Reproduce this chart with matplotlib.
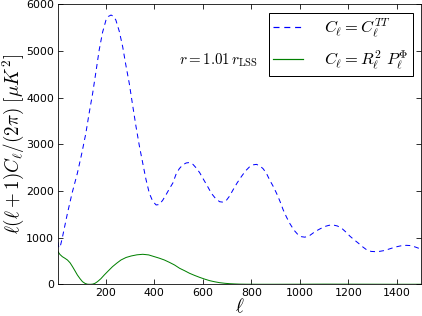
import matplotlib
matplotlib.use("Agg")
import matplotlib.pyplot as plt

plt.rcParams['mathtext.fontset'] = 'cm'
plt.rcParams['font.family'] = ['DejaVu Sans']

ell_tt = [2, 5, 10, 20, 41, 60, 82, 100, 117, 130, 145, 160, 172, 186, 200, 210, 221, 232, 241, 255,
          269, 282, 296, 310, 324, 338, 352, 365, 379, 393, 407, 420, 434, 448, 462, 476, 490, 503,
          517, 531, 545, 559, 573, 587, 600, 618, 635, 652, 669, 683, 697, 710, 724, 741, 759, 776,
          793, 807, 821, 834, 848, 862, 876, 890, 904, 918, 931, 945, 959, 976, 993, 1007, 1021,
          1042, 1063, 1084, 1104, 1121, 1138, 1155, 1173, 1190, 1207, 1225, 1242, 1260, 1277,
          1294, 1311, 1328, 1345, 1362, 1380, 1400, 1422, 1440, 1456, 1476, 1497, 1500]
dl_tt = [900, 800, 780, 1000, 1520, 1950, 2380, 2800, 3235, 3650, 4090, 4600, 5020, 5400, 5660, 5740,
         5770, 5740, 5660, 5420, 5090, 4700, 4310, 3840, 3380, 2960, 2590, 2250, 1950, 1780, 1700,
         1710, 1800, 1920, 2050, 2170, 2370, 2480, 2560, 2600, 2610, 2570, 2490, 2390, 2270, 2110,
         1950, 1840, 1770, 1760, 1800, 1890, 2020, 2170, 2310, 2430, 2520, 2560, 2570, 2540, 2480,
         2380, 2230, 2100, 1950, 1780, 1600, 1440, 1300, 1160, 1060, 1020, 1010, 1050, 1130, 1190,
         1240, 1265, 1270, 1250, 1200, 1120, 1030, 950, 880, 800, 735, 705, 700, 705, 720, 745,
         775, 805, 830, 835, 830, 800, 760, 750]

ell_phi = [2, 10, 20, 30, 41, 52, 62, 72, 82, 93, 103, 114, 124, 135, 145, 155, 165, 179, 193, 210,
           227, 245, 262, 283, 304, 328, 352, 376, 400, 420, 441, 462, 483, 504, 525, 545, 566,
           586, 607, 628, 648, 669, 690, 711, 731, 752, 780, 820, 900, 1000, 1100, 1200, 1300,
           1400, 1500]
dl_phi = [700, 640, 592, 560, 521, 460, 378, 290, 200, 120, 57, 18, 2, 0, 4, 22, 57, 120, 200, 290,
          378, 455, 521, 575, 607, 632, 643, 630, 592, 560, 521, 470, 414, 343, 290, 236, 190,
          150, 112, 78, 55, 35, 22, 13, 8, 4, 2, 1, 1, 2, 4, 3, 2, 1, 1]

xticks = [200, 400, 600, 800, 1000, 1200, 1400]
yticks = [0, 1000, 2000, 3000, 4000, 5000, 6000]

blue = (0.0, 0.0, 1.0)
green = (0.0, 0.5, 0.0)

fig = plt.figure(figsize=(422/72, 316/72), dpi=72)
ax = fig.add_axes([0.1374, 0.1003, 0.8602, 0.8861])

ax.plot(ell_tt, dl_tt, color=blue, linestyle='--', dashes=(5, 4), lw=1.0,
        label=r'$C_\ell = C_\ell^{TT}$')
ax.plot(ell_phi, dl_phi, color=green, lw=1.0,
        label=r'$C_\ell = R_\ell^2\ P_\ell^{\Phi}$')

ax.set_xlim(2, 1500)
ax.set_ylim(0, 6000)
ax.set_xticks(xticks)
ax.set_yticks(yticks)
ax.tick_params(direction='in', top=True, right=True, length=5, labelsize=11, pad=4)

ax.set_xlabel(r'$\ell$', fontsize=19, labelpad=-1)
ax.set_ylabel(r'$\ell(\ell+1)C_\ell/(2\pi)\ [\mu K^2]$', fontsize=19, labelpad=0)

ax.text(0.333, 0.785, r'$r = 1.01\,r_{\rm LSS}$', transform=ax.transAxes, fontsize=15)

leg = ax.legend(loc='upper right', fontsize=16.5, fancybox=False, framealpha=1,
                edgecolor='black', borderpad=0.25, handlelength=1.8, handletextpad=1.3,
                labelspacing=0.45, borderaxespad=0.5)
leg.get_frame().set_linewidth(1.0)
for h, c in zip(leg.get_lines(), [blue, green]):
    h.set_color(c)
    h.set_linewidth(1.2)

fig.savefig('out.png', dpi=72)
